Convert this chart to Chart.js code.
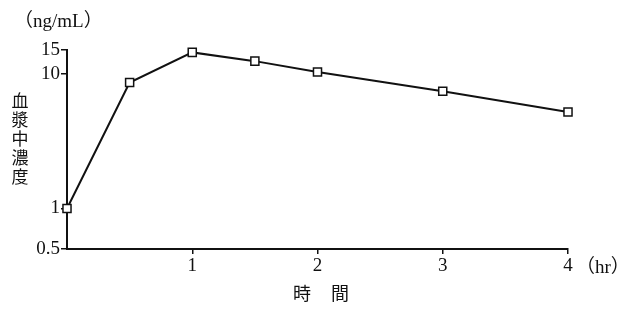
<!DOCTYPE html>
<html lang="ja">
<head>
<meta charset="UTF-8">
<title>血漿中濃度</title>
<script src="https://cdn.jsdelivr.net/npm/chart.js"></script>
<style>
  body { margin: 0; background: #fff; }
  #wrap { width: 629px; height: 311px; position: relative; }
</style>
</head>
<body>
<div id="wrap"><canvas id="conc"></canvas></div>
<script>
const hours = [0, 0.5, 1, 1.5, 2, 3, 4];
const concentration = [1, 8.6, 14.4, 12.4, 10.3, 7.4, 5.2];
const yTicks = [0.5, 1, 10, 15];
const xTicks = [1, 2, 3, 4];

const serif = '"Liberation Serif", "Noto Sans CJK JP", serif';
const cjk = '"Noto Sans CJK JP", sans-serif';

// extra labels: units and the stacked y title
const labelsPlugin = {
  id: 'labels',
  afterDraw(chart) {
    const ctx = chart.ctx;
    const area = chart.chartArea;
    ctx.save();
    ctx.fillStyle = '#111';
    ctx.textBaseline = 'middle';
    ctx.font = '19px ' + serif;
    ctx.textAlign = 'left';
    ctx.fillText('（ng/mL）', 14, 22);
    ctx.fillText('（hr）', area.right + 8, 268);

    ctx.font = '17px ' + cjk;
    ctx.textAlign = 'center';
    const title = '血漿中濃度';
    for (let i = 0; i < title.length; i++) {
      ctx.fillText(title[i], 20, 101 + i * 19);
    }
    ctx.font = '18px ' + cjk;
    ctx.fillText('時', 302, 293);
    ctx.fillText('間', 340, 293);
    ctx.restore();
  }
};

new Chart(document.getElementById('conc'), {
  type: 'line',
  data: {
    datasets: [{
      data: hours.map((h, i) => ({ x: h, y: concentration[i] })),
      borderColor: '#111',
      borderWidth: 2,
      pointStyle: 'rect',
      pointRadius: 5.7,
      pointBorderWidth: 1.5,
      pointBackgroundColor: '#fff',
      pointBorderColor: '#111',
      tension: 0,
      clip: false
    }]
  },
  options: {
    responsive: true,
    maintainAspectRatio: false,
    animation: false,
    layout: { padding: { left: 0, top: 50, right: 61, bottom: 0 } },
    plugins: {
      legend: { display: false },
      tooltip: { enabled: false }
    },
    scales: {
      x: {
        type: 'linear',
        min: 0,
        max: 4,
        afterBuildTicks: s => { s.ticks = xTicks.map(v => ({ value: v })); },
        afterFit: s => { s.height = 62; },
        border: { color: '#111', width: 2 },
        grid: { drawOnChartArea: false, tickLength: 5, color: '#111', lineWidth: 1.5 },
        ticks: { color: '#111', font: { family: serif, size: 19 }, padding: 1, maxRotation: 0 }
      },
      y: {
        type: 'logarithmic',
        min: 0.5,
        max: 15,
        afterBuildTicks: s => { s.ticks = yTicks.map(v => ({ value: v })); },
        afterFit: s => { s.width = 67; },
        border: { color: '#111', width: 2 },
        grid: { drawOnChartArea: false, tickLength: 6, color: '#111', lineWidth: 1.5 },
        ticks: { color: '#111', font: { family: serif, size: 19 }, padding: 1,
                 callback: v => String(v) }
      }
    }
  },
  plugins: [labelsPlugin]
});
</script>
</body>
</html>
